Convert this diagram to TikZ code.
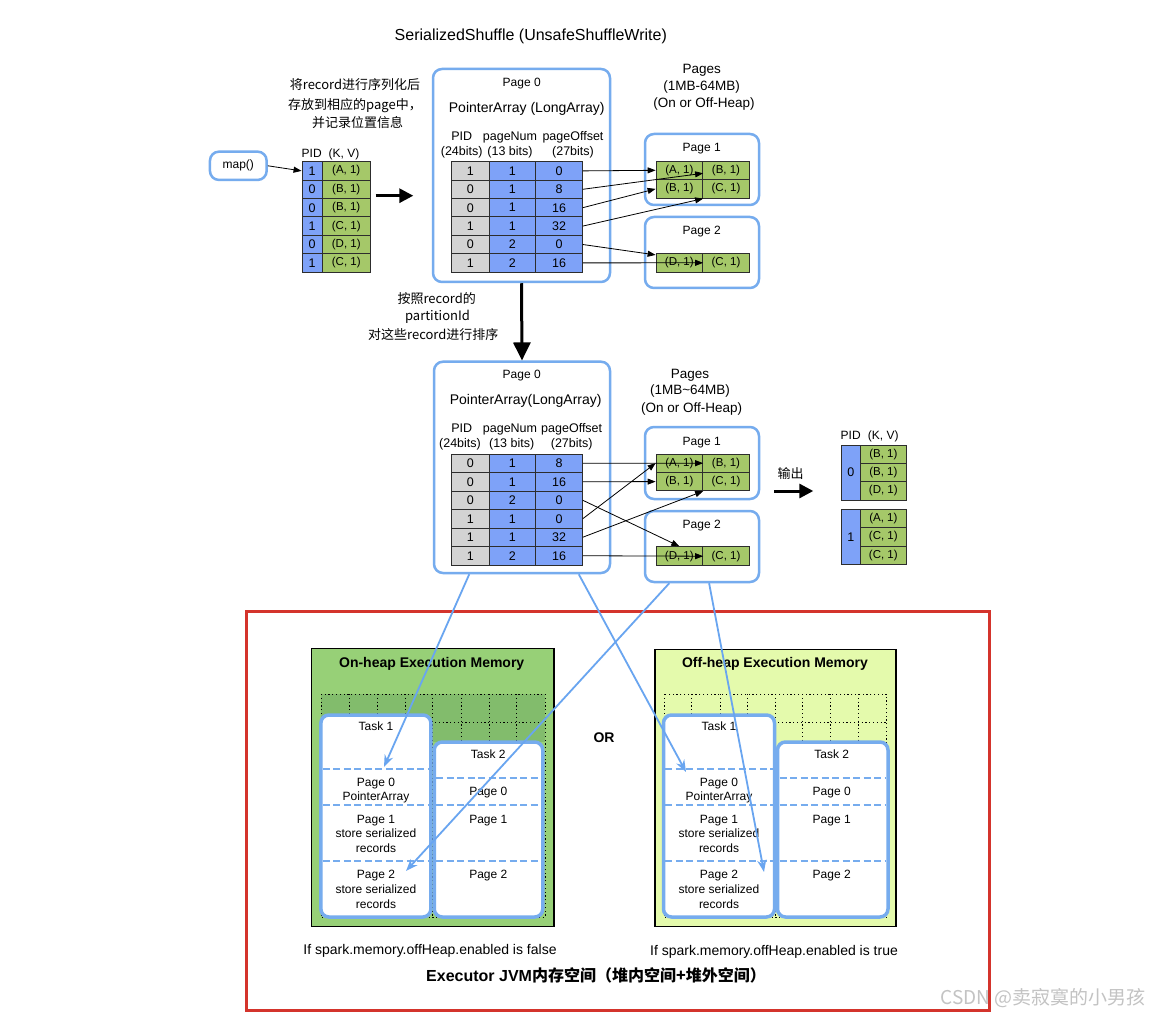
\documentclass[tikz,border=0pt]{standalone}
\usepackage{fontspec}
\setmainfont{Liberation Sans}
\newfontfamily\cjk{Noto Sans CJK SC}
\usetikzlibrary{arrows.meta,calc}
\newcommand{\myfs}[1]{\fontsize{#1}{#1}\selectfont}
\definecolor{pidblue}{RGB}{126,162,248}
\definecolor{cellgrey}{RGB}{211,211,211}
\definecolor{kvgreen}{RGB}{165,200,105}
\definecolor{lblue}{RGB}{118,172,238}
\definecolor{arrblue}{RGB}{105,165,240}
\definecolor{onheap}{RGB}{151,208,119}
\definecolor{onheapdark}{RGB}{130,188,108}
\definecolor{offheap}{RGB}{228,250,172}
\definecolor{redbox}{RGB}{212,52,44}
\definecolor{cellline}{RGB}{45,45,45}
\definecolor{wmark}{RGB}{195,195,195}
\begin{document}
\begin{tikzpicture}[x=1pt,y=-1pt,
  lab/.style={anchor=base, inner sep=0pt, font=\myfs{12}},
  cell/.style={draw=cellline, line width=0.8pt, inner sep=0pt, minimum height=18.4pt, font=\myfs{12.5}},
  pidc/.style={cell, fill=pidblue, minimum width=20.5pt},
  kvc/.style={cell, fill=kvgreen, minimum width=47.5pt, font=\myfs{11.5}},
  greyc/.style={cell, fill=cellgrey, minimum width=37.3pt},
  bluec/.style={cell, fill=pidblue, minimum width=46.7pt},
  pgc/.style={cell, fill=kvgreen, minimum width=46.7pt, font=\myfs{11.5}},
  lbox/.style={draw=lblue, line width=2.5pt, rounded corners=9pt, inner sep=0pt},
  taskbox/.style={draw=lblue, line width=3.5pt, fill=white, rounded corners=8pt, inner sep=0pt},
  pdash/.style={draw=lblue, line width=2.3pt, dash pattern=on 7pt off 3.5pt},
  gridl/.style={draw=black, line width=0.9pt, dash pattern=on 1.2pt off 2.6pt},
  thin/.style={draw=black, line width=0.8pt, -{Triangle[length=8pt,width=6pt]}},
  fatr/.style={draw=black, line width=3pt, -{Triangle[length=14pt,width=14pt]}},
  fatd/.style={draw=black, line width=3pt, -{Triangle[length=18pt,width=17pt]}},
  barr/.style={draw=arrblue, line width=1.8pt, -{Stealth[length=12pt,width=9pt]}},
  memtitle/.style={lab, font=\bfseries\myfs{14}}
]
\fill[white] (0,0) rectangle (1168,1016);
\useasboundingbox (0,0) rectangle (1168,1016);

% ---------- title ----------
\node[lab, font=\myfs{16}] (title) at (530.8,40.8) {SerializedShuffle (UnsafeShuffleWrite)};

% ---------- top section ----------
\node[lab, font=\cjk\myfs{13}] (c1) at (355,90) {将record进行序列化后};
\node[lab, font=\cjk\myfs{13}] (c2) at (355,109.3) {存放到相应的page中，};
\node[lab, font=\cjk\myfs{13}] (c3) at (357.5,127.7) {并记录位置信息};

\node[lbox, minimum width=56.7pt, minimum height=28.3pt, font=\myfs{12}] (map) at (238.3,165.8) {map()};

\node[lab] (lh1) at (311.7,157.2) {PID};
\node[lab] (lh2) at (344,157.2) {(K, V)};
\foreach \p/\kv [count=\i] in {1/{(A, 1)},0/{(B, 1)},0/{(B, 1)},1/{(C, 1)},0/{(D, 1)},1/{(C, 1)}} {
  \node[pidc] (ltp\i) at (312.2,152.5+18.4*\i) {\p};
  \node[kvc] (ltk\i) at (346.25,152.5+18.4*\i) {\kv};
}
\draw[thin] (map.east) -- (ltp1.west);
\coordinate (fa1) at (375.7,195.7);
\coordinate (fa2) at (413.3,195.7);
\draw[fatr] (fa1) -- (fa2);

\node[lbox, minimum width=177pt, minimum height=213pt] (P0a) at (521.5,175.5) {};
\node[lab] (p0at) at (521.7,86.2) {Page 0};
\node[lab, font=\myfs{14}] (p0aa) at (526.7,112.3) {PointerArray (LongArray)};
\node[lab, font=\myfs{12.5}] (h1a) at (461.7,140.5) {PID};
\node[lab, font=\myfs{12.5}] (h1b) at (461.7,155.2) {(24bits)};
\node[lab, font=\myfs{12.5}] (h1c) at (510,140.5) {pageNum};
\node[lab, font=\myfs{12.5}] (h1d) at (510,155.2) {(13 bits)};
\node[lab, font=\myfs{12.5}] (h1e) at (573,140.5) {pageOffset};
\node[lab, font=\myfs{12.5}] (h1f) at (573,155.2) {(27bits)};
\foreach \a/\b/\c [count=\i] in {1/1/0,0/1/8,0/1/16,1/1/32,0/2/0,1/2/16} {
  \node[greyc] (pa\i) at (470.35,152.5+18.4*\i) {\a};
  \node[bluec] (pb\i) at (512.35,152.5+18.4*\i) {\b};
  \node[bluec] (pc\i) at (559,152.5+18.4*\i) {\c};
}

\node[lab, font=\myfs{13.5}] (pg1) at (701.7,73.2) {Pages};
\node[lab, font=\myfs{13.5}] (pg2) at (701.7,90.5) {(1MB-64MB)};
\node[lab, font=\myfs{13.5}] (pg3) at (704,107.1) {(On or Off-Heap)};

\node[lbox, minimum width=114pt, minimum height=71pt] (P1a) at (702,169.5) {};
\node[lbox, minimum width=114pt, minimum height=71pt] (P2a) at (702,252.5) {};
\node[lab] (p1at) at (701.7,151.2) {Page 1};
\node[lab] (p2at) at (701.7,234.5) {Page 2};
\node[pgc, minimum height=18.6pt] (u1a) at (679.35,170.3) {(A, 1)};
\node[pgc, minimum height=18.6pt] (u1b) at (726,170.3) {(B, 1)};
\node[pgc, minimum height=18.6pt] (u1c) at (679.35,188.9) {(B, 1)};
\node[pgc, minimum height=18.6pt] (u1d) at (726,188.9) {(C, 1)};
\node[pgc, minimum height=19pt] (u2a) at (679.35,262.8) {(D, 1)};
\node[pgc, minimum height=19pt] (u2b) at (726,262.8) {(C, 1)};

\draw[thin] (pc1.east) -- (u1a.west);
\draw[thin] (pc2.east) -- ($(u1a.east)+(0,3)$);
\draw[thin] (pc3.east) -- (u1c.west);
\draw[thin] (pc4.east) -- (u1c.south east);
\draw[thin] (pc5.east) -- ($(u2a.north west)+(0,2)$);
\draw[thin] (pc6.east) -- (u2a.east);

% ---------- middle section ----------
\node[lbox, minimum width=176pt, minimum height=211.3pt] (P0b) at (522,467.35) {};
\draw[fatd] (P0a.south) -- (P0b.north);
\node[lab, font=\cjk\myfs{13}] (m1) at (436.7,303.3) {按照record的};
\node[lab, font=\cjk\myfs{13}] (m2) at (437.5,320.5) {partitionId};
\node[lab, font=\cjk\myfs{13}] (m3) at (433.3,339.3) {对这些record进行排序};

\node[lab] (p0bt) at (521.7,378.8) {Page 0};
\node[lab, font=\myfs{14}] (p0ba) at (525.7,404) {PointerArray(LongArray)};
\node[lab, font=\myfs{12.5}] (h2a) at (461.7,432.8) {PID};
\node[lab, font=\myfs{12.5}] (h2b) at (460,447.8) {(24bits)};
\node[lab, font=\myfs{12.5}] (h2c) at (510,432.8) {pageNum};
\node[lab, font=\myfs{12.5}] (h2d) at (511.7,447.8) {(13 bits)};
\node[lab, font=\myfs{12.5}] (h2e) at (571.7,432.8) {pageOffset};
\node[lab, font=\myfs{12.5}] (h2f) at (571.7,447.8) {(27bits)};
\foreach \a/\b/\c [count=\i] in {0/1/8,0/1/16,0/2/0,1/1/0,1/1/32,1/2/16} {
  \node[greyc, minimum height=18.5pt] (ta\i) at (470.35,444.75+18.5*\i) {\a};
  \node[bluec, minimum height=18.5pt] (tb\i) at (512.35,444.75+18.5*\i) {\b};
  \node[bluec, minimum height=18.5pt] (tc\i) at (559,444.75+18.5*\i) {\c};
}

\node[lab, font=\myfs{13.5}] (pg4) at (690,378.1) {Pages};
\node[lab, font=\myfs{13.5}] (pg5) at (690,394.8) {(1MB\textasciitilde 64MB)};
\node[lab, font=\myfs{13.5}] (pg6) at (691.7,412.5) {(On or Off-Heap)};

\node[lbox, minimum width=114pt, minimum height=72pt] (P1b) at (702,463) {};
\node[lbox, minimum width=114pt, minimum height=71pt] (P2b) at (702,546.5) {};
\node[lab] (p1bt) at (701.7,445.2) {Page 1};
\node[lab] (p2bt) at (701.7,528.5) {Page 2};
\node[pgc, minimum height=18.4pt] (v1a) at (679.35,463.2) {(A, 1)};
\node[pgc, minimum height=18.4pt] (v1b) at (726,463.2) {(B, 1)};
\node[pgc, minimum height=18.4pt] (v1c) at (679.35,481.6) {(B, 1)};
\node[pgc, minimum height=18.4pt] (v1d) at (726,481.6) {(C, 1)};
\node[pgc, minimum height=19pt] (v2a) at (679.35,556.2) {(D, 1)};
\node[pgc, minimum height=19pt] (v2b) at (726,556.2) {(C, 1)};

\draw[thin] (tc1.east) -- (v1a.east);
\draw[thin] (tc2.east) -- (v1c.west);
\draw[thin] (tc3.east) -- (v2a.north);
\draw[thin] (tc4.east) -- (v1a.west);
\draw[thin] (tc5.east) -- (v1c.south east);
\draw[thin] (tc6.east) -- (v2a.east);

% output
\node[lab, font=\cjk\myfs{13}] (outl) at (790.7,478.3) {输出};
\coordinate (fo1) at (774,491);
\coordinate (fo2) at (813.3,491);
\draw[fatr] (fo1) -- (fo2);
\node[lab] (oh1) at (850.7,439.5) {PID};
\node[lab] (oh2) at (883.3,439.5) {(K, V)};
\node[cell, fill=pidblue, minimum width=18.3pt, minimum height=55pt] (o0) at (850.85,472.5) {0};
\node[pgc, minimum height=18.33pt] (o0a) at (883.35,454.2) {(B, 1)};
\node[pgc, minimum height=18.33pt] (o0b) at (883.35,472.5) {(B, 1)};
\node[pgc, minimum height=18.33pt] (o0c) at (883.35,490.8) {(D, 1)};
\node[cell, fill=pidblue, minimum width=18.3pt, minimum height=55pt] (o1) at (850.85,536.8) {1};
\node[pgc, minimum height=18.33pt] (o1a) at (883.35,518.5) {(A, 1)};
\node[pgc, minimum height=18.33pt] (o1b) at (883.35,536.8) {(C, 1)};
\node[pgc, minimum height=18.33pt] (o1c) at (883.35,555.1) {(C, 1)};

% ---------- bottom section ----------
\node[draw=redbox, line width=3pt, minimum width=743pt, minimum height=398.5pt, inner sep=0pt] (frame) at (617.5,810.75) {};

% on-heap
\node[draw=black, line width=1.5pt, fill=onheap, minimum width=242.3pt, minimum height=278.4pt, inner sep=0pt] (onh) at (432.85,787.5) {};
\node[memtitle] (onht) at (431.7,667.6) {On-heap Execution Memory};
\fill[onheapdark] (321,694) rectangle (545,742);
\draw[gridl] (321,694) rectangle (545,917);
\draw[gridl] (321,722.7) -- (545,722.7);
\foreach \x in {349.3,377.3,405,432.7,461,489,516.7} { \draw[gridl] (\x,694) -- (\x,917); }

\node[taskbox, minimum width=110pt, minimum height=202pt] (T1on) at (375.9,816) {};
\node[taskbox, minimum width=108.5pt, minimum height=175pt] (T2on) at (488.5,829.5) {};
\draw[pdash] (322.8,769.3) -- (429,769.3);
\draw[pdash] (322.8,805) -- (429,805);
\draw[pdash] (322.8,861) -- (429,861);
\draw[pdash] (436,778.3) -- (541,778.3);
\draw[pdash] (436,805) -- (541,805);
\draw[pdash] (436,861) -- (541,861);
\node[lab] (a1) at (376,730.5) {Task 1};
\node[lab] (a2) at (376,786.2) {Page 0};
\node[lab] (a3) at (376,800.5) {PointerArray};
\node[lab] (a4) at (376,823.5) {Page 1};
\node[lab] (a5) at (376,837.8) {store serialized};
\node[lab] (a6) at (376,852.8) {records};
\node[lab] (a7) at (376,878.8) {Page 2};
\node[lab] (a8) at (376,893.8) {store serialized};
\node[lab] (a9) at (376,908.8) {records};
\node[lab] (b1) at (488.3,758.5) {Task 2};
\node[lab] (b2) at (488.3,795.5) {Page 0};
\node[lab] (b3) at (488.3,823.5) {Page 1};
\node[lab] (b4) at (488.3,878.8) {Page 2};

% off-heap
\node[draw=black, line width=1.5pt, fill=offheap, minimum width=241pt, minimum height=277.4pt, inner sep=0pt] (offh) at (775.5,788) {};
\node[memtitle] (offht) at (775,667.6) {Off-heap Execution Memory};
\draw[gridl] (664,694) rectangle (886.7,917);
\draw[gridl] (664,722.7) -- (886.7,722.7);
\foreach \x in {691.7,720,747.3,775,802.7,830.7,858.3} { \draw[gridl] (\x,694) -- (\x,917); }

\node[taskbox, minimum width=111pt, minimum height=202pt] (T1off) at (719,816) {};
\node[taskbox, minimum width=110.5pt, minimum height=175pt] (T2off) at (832.75,829.5) {};
\draw[pdash] (665.3,769.3) -- (772.7,769.3);
\draw[pdash] (665.3,805) -- (772.7,805);
\draw[pdash] (665.3,861) -- (772.7,861);
\draw[pdash] (779.5,778.3) -- (886,778.3);
\draw[pdash] (779.5,805) -- (886,805);
\draw[pdash] (779.5,861) -- (886,861);
\node[lab] (d1) at (719,730.5) {Task 1};
\node[lab] (d2) at (719,786.2) {Page 0};
\node[lab] (d3) at (719,800.5) {PointerArray};
\node[lab] (d4) at (719,823.5) {Page 1};
\node[lab] (d5) at (719,837.8) {store serialized};
\node[lab] (d6) at (719,852.8) {records};
\node[lab] (d7) at (719,878.8) {Page 2};
\node[lab] (d8) at (719,893.8) {store serialized};
\node[lab] (d9) at (719,908.8) {records};
\node[lab] (e1) at (831.7,758.5) {Task 2};
\node[lab] (e2) at (831.7,795.5) {Page 0};
\node[lab] (e3) at (831.7,823.5) {Page 1};
\node[lab] (e4) at (831.7,878.8) {Page 2};

\node[lab, font=\bfseries\myfs{14}] (orl) at (604,742) {OR};
\node[lab, font=\myfs{14}] (fl) at (430,954) {If spark.memory.offHeap.enabled is false};
\node[lab, font=\myfs{14}] (tr) at (774,955) {If spark.memory.offHeap.enabled is true};
\node[lab, font=\bfseries\myfs{16}] (exe) at (596,981.7) {Executor JVM{\cjk 内存空间（堆内空间+堆外空间）}};

% blue connectors
\coordinate (e1on) at (384,767);
\coordinate (e2on) at (406,871);
\coordinate (e1off) at (686,772);
\coordinate (e2off) at (764,872);
\draw[barr] ($(P0b.south west)!0.2045!(P0b.south east)$) -- (e1on);
\draw[barr] ($(P2b.south west)!0.219!(P2b.south east)$) -- (e2on);
\draw[barr] ($(P0b.south west)!0.818!(P0b.south east)$) -- (e1off);
\draw[barr] ($(P2b.south west)!0.561!(P2b.south east)$) -- (e2off);

% watermark
\node[lab, font=\cjk\myfs{19}, text=wmark] (wm) at (1043,1004) {CSDN @卖寂寞的小男孩};
\end{tikzpicture}
\end{document}
